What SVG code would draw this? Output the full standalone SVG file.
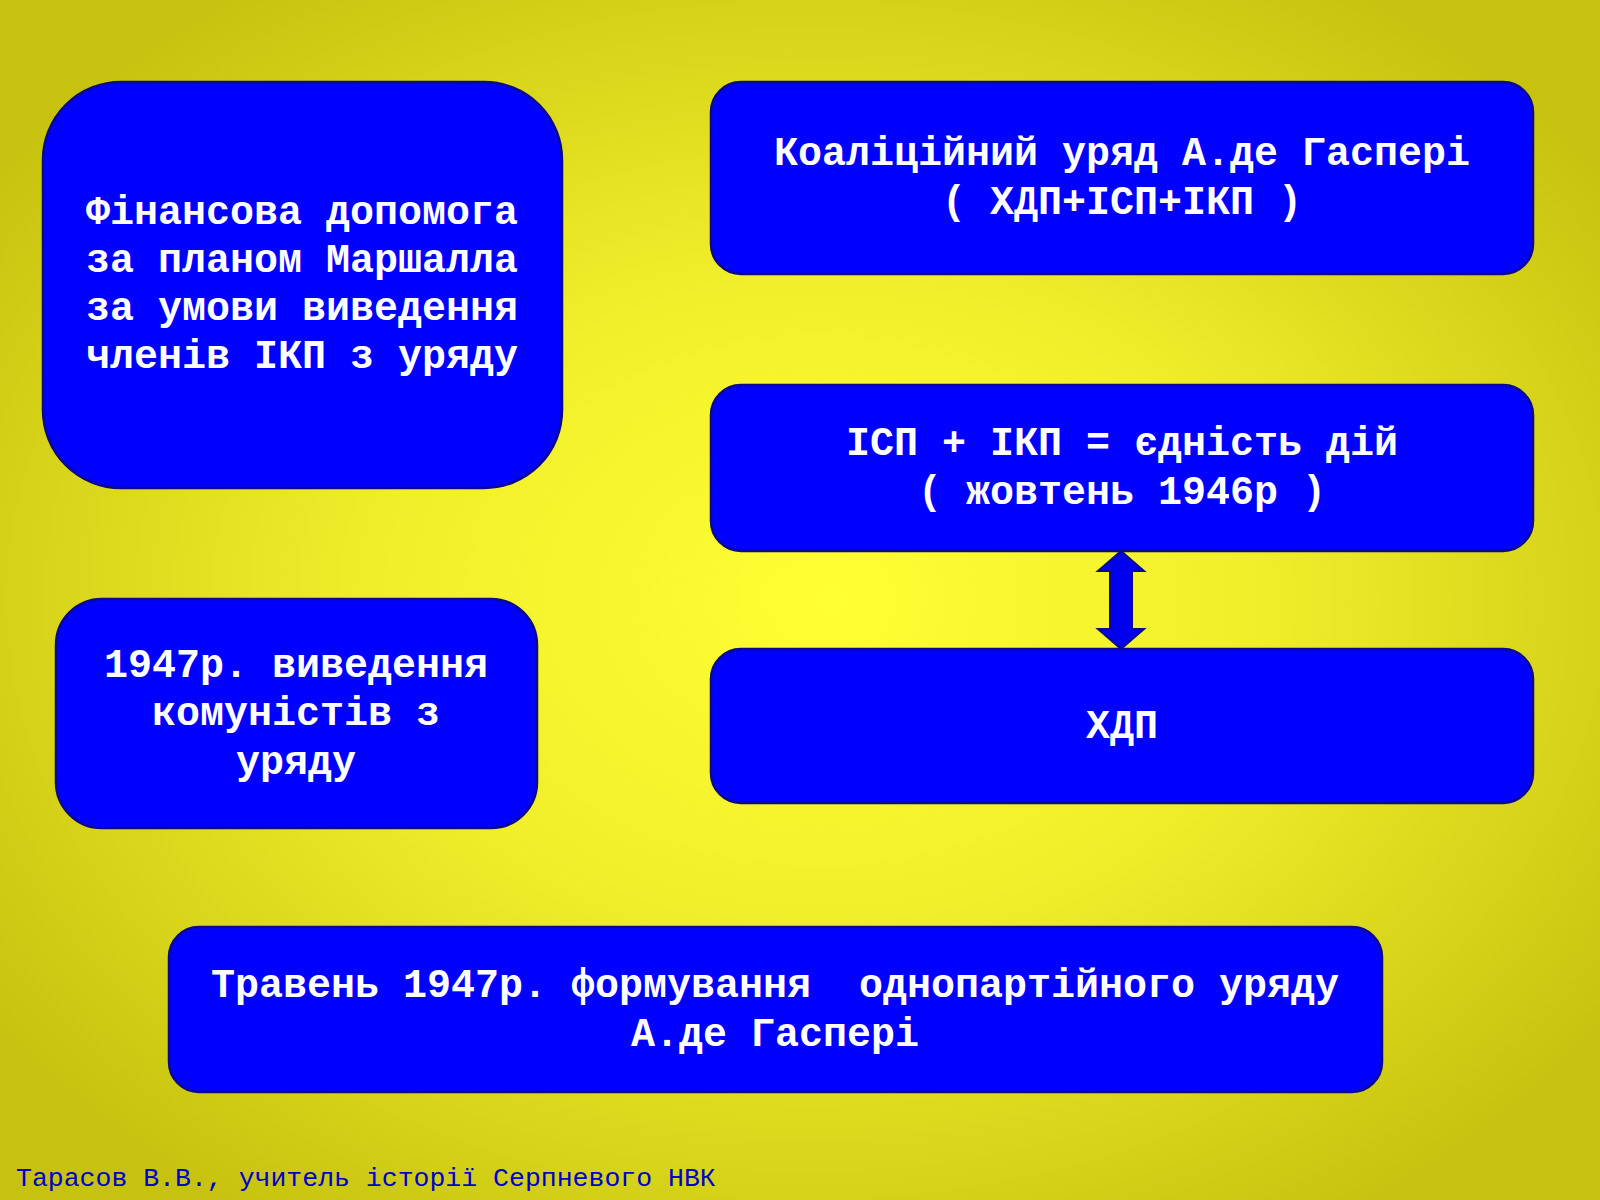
<svg xmlns="http://www.w3.org/2000/svg" width="1600" height="1200" viewBox="0 0 1600 1200">
<defs>
<radialGradient id="bg" cx="50%" cy="50%" r="62%" fx="52%" fy="50%">
<stop offset="0" stop-color="#ffff33"/>
<stop offset="0.45" stop-color="#f0ee2a"/>
<stop offset="1" stop-color="#c6c20f"/>
</radialGradient>
<style>
.box{fill:#0000ff;stroke:#0a0a8a;stroke-width:2.5}
.t{font-family:"Liberation Mono","Courier New",monospace;font-weight:bold;font-size:40px;fill:#ffffff;text-anchor:middle}
.f{font-family:"Liberation Mono","Courier New",monospace;font-size:26.5px;fill:#0000cc}
</style>
</defs>
<rect x="0" y="0" width="1600" height="1200" fill="url(#bg)"/>
<g id="n-finance">
<rect class="box" x="43" y="82" width="519" height="406" rx="78" ry="78"/>
<text class="t" x="302" y="224" xml:space="preserve">Фінансова допомога</text>
<text class="t" x="302" y="272" xml:space="preserve">за планом Маршалла</text>
<text class="t" x="302" y="320" xml:space="preserve">за умови виведення</text>
<text class="t" x="302" y="368" xml:space="preserve">членів ІКП з уряду</text>
</g>
<g id="n-coalition">
<rect class="box" x="711" y="82" width="822" height="192" rx="30" ry="30"/>
<text class="t" x="1122" y="165" xml:space="preserve">Коаліційний уряд А.де Гаспері</text>
<text class="t" x="1122" y="214" xml:space="preserve">( ХДП+ІСП+ІКП )</text>
</g>
<g id="n-unity">
<rect class="box" x="711" y="385" width="822" height="166" rx="30" ry="30"/>
<text class="t" x="1122" y="455" xml:space="preserve">ІСП + ІКП = єдність дій</text>
<text class="t" x="1122" y="504" xml:space="preserve">( жовтень 1946р )</text>
</g>
<g id="n-xdp">
<rect class="box" x="711" y="649" width="822" height="154" rx="30" ry="30"/>
<text class="t" x="1122" y="738">ХДП</text>
</g>
<g id="n-1947">
<rect class="box" x="56" y="599" width="481" height="229" rx="46" ry="46"/>
<text class="t" x="296" y="677" xml:space="preserve">1947р. виведення</text>
<text class="t" x="296" y="725" xml:space="preserve">комуністів з</text>
<text class="t" x="296" y="774">уряду</text>
</g>
<g id="n-may1947">
<rect class="box" x="169" y="927" width="1213" height="165" rx="30" ry="30"/>
<text class="t" x="775" y="997" xml:space="preserve">Травень 1947р. формування  однопартійного уряду</text>
<text class="t" x="775" y="1046" xml:space="preserve">А.де Гаспері</text>
</g>
<g id="connectors">
<polygon points="1121,551 1144,571 1132,571 1132,629 1144,629 1121,649 1098,629 1110,629 1110,571 1098,571" fill="#0000ee" stroke="#0a0a8a" stroke-width="2"/>
</g>
<text class="f" x="16" y="1186" xml:space="preserve">Тарасов В.В., учитель історії Серпневого НВК</text>
</svg>
